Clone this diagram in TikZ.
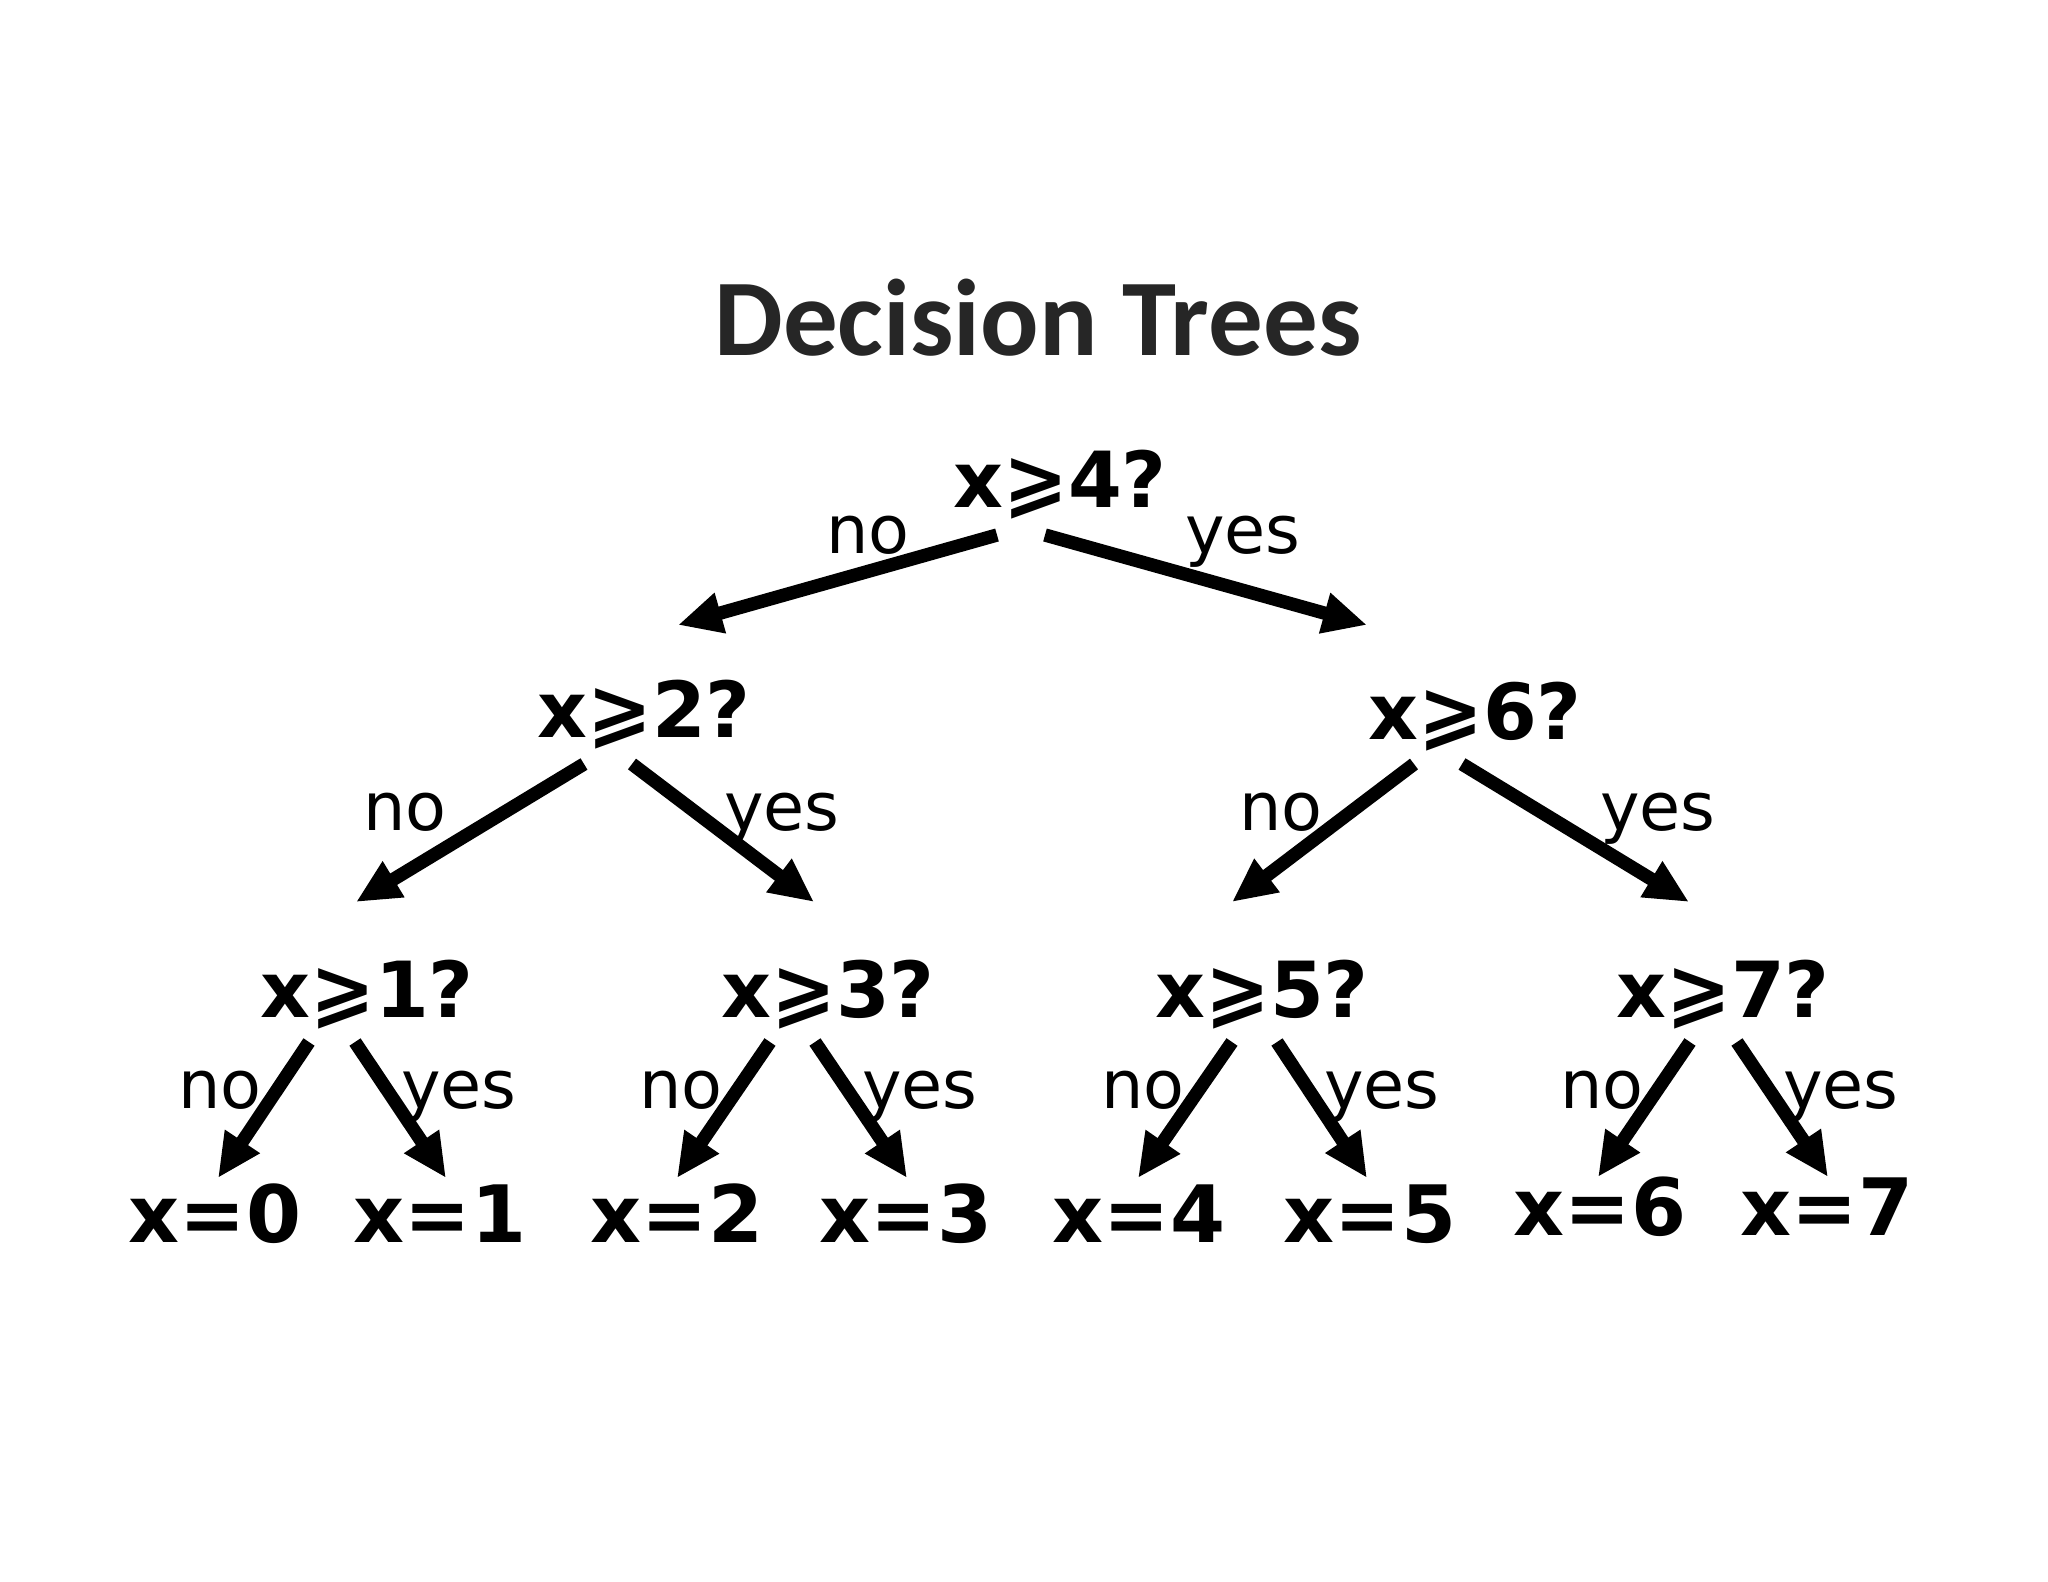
\documentclass[tikz,border=0pt]{standalone}
\usepackage{fontspec}
\setmainfont{DejaVu Sans}
\newfontfamily\titlefont{Carlito}
\usetikzlibrary{arrows.meta,calc}
\tikzset{>=latex}

\begin{document}
\begin{tikzpicture}[x=0.01cm, y=-0.01cm,
	test/.style={anchor=base, inner sep=0pt, font=\fontsize{22}{26}\selectfont\bfseries},
	leaf/.style={anchor=base, inner sep=0pt, font=\fontsize{22.5}{27}\selectfont\bfseries},
	lab/.style={anchor=base, inner sep=0pt, font=\fontsize{19}{22}\selectfont},
	edge/.style={-{Triangle[length=4.4mm,width=3.9mm]}, line width=3.8pt}]

	\useasboundingbox (0,0) rectangle (2048,1582);

	\node[anchor=base, text=black!85, font=\fontsize{31}{37}\selectfont\titlefont\bfseries](title) at (1038,355) {Decision Trees};

	\node[test](r4) at (1060,507) {x⩾4?};

	\node[test](n2) at (644,737) {x⩾2?};
	\node[test](n6) at (1475,739) {x⩾6?};

	\node[test](n1) at (367,1017) {x⩾1?};
	\node[test](n3) at (828,1017) {x⩾3?};
	\node[test](n5) at (1262,1017) {x⩾5?};
	\node[test](n7) at (1723,1017) {x⩾7?};

	\node[leaf](l0) at (215,1242) {x=0};
	\node[leaf](l1) at (440,1242) {x=1};
	\node[leaf](l2) at (677,1242) {x=2};
	\node[leaf](l3) at (906,1242) {x=3};
	\node[leaf](l4) at (1139,1242) {x=4};
	\node[leaf](l5) at (1370,1242) {x=5};
	\node[leaf](l6) at (1600,1235) {x=6};
	\node[leaf](l7) at (1827,1235) {x=7};

	% Labels

	\node[lab](r4-no) at (868,553) {no};
	\node[lab](r4-yes) at (1243,553) {yes};

	\node[lab](n2-no) at (405,830) {no};
	\node[lab](n2-yes) at (782,830) {yes};
	\node[lab](n6-no) at (1281,830) {no};
	\node[lab](n6-yes) at (1658,830) {yes};

	\node[lab](n1-no) at (220,1108) {no};
	\node[lab](n1-yes) at (459,1108) {yes};
	\node[lab](n3-no) at (681,1108) {no};
	\node[lab](n3-yes) at (920,1108) {yes};
	\node[lab](n5-no) at (1143,1108) {no};
	\node[lab](n5-yes) at (1382,1108) {yes};
	\node[lab](n7-no) at (1602,1108) {no};
	\node[lab](n7-yes) at (1841,1108) {yes};

	% Arrows

	\draw [edge] ($(r4.base)+(-63,28)$) to ($(n2.base)+(34,-112)$);
	\draw [edge] ($(r4.base)+(-15,28)$) to ($(n6.base)+(-108,-114)$);

	\draw [edge] ($(n2.base)+(-60,27)$) to ($(n1.base)+(-11,-115)$);
	\draw [edge] ($(n2.base)+(-12,27)$) to ($(n3.base)+(-14,-115)$);
	\draw [edge] ($(n6.base)+(-61,25)$) to ($(n5.base)+(-30,-115)$);
	\draw [edge] ($(n6.base)+(-13,25)$) to ($(n7.base)+(-34,-115)$);

	\draw [edge] ($(n1.base)+(-58,25)$) to ($(l0.base)+(3,-64)$);
	\draw [edge] ($(n1.base)+(-12,25)$) to ($(l1.base)+(6,-64)$);
	\draw [edge] ($(n3.base)+(-58,25)$) to ($(l2.base)+(0,-64)$);
	\draw [edge] ($(n3.base)+(-13,25)$) to ($(l3.base)+(1,-64)$);
	\draw [edge] ($(n5.base)+(-30,25)$) to ($(l4.base)+(-1,-64)$);
	\draw [edge] ($(n5.base)+(15,25)$) to ($(l5.base)+(-3,-64)$);
	\draw [edge] ($(n7.base)+(-33,25)$) to ($(l6.base)+(-2,-58)$);
	\draw [edge] ($(n7.base)+(14,25)$) to ($(l7.base)+(1,-58)$);

\end{tikzpicture}
\end{document}
